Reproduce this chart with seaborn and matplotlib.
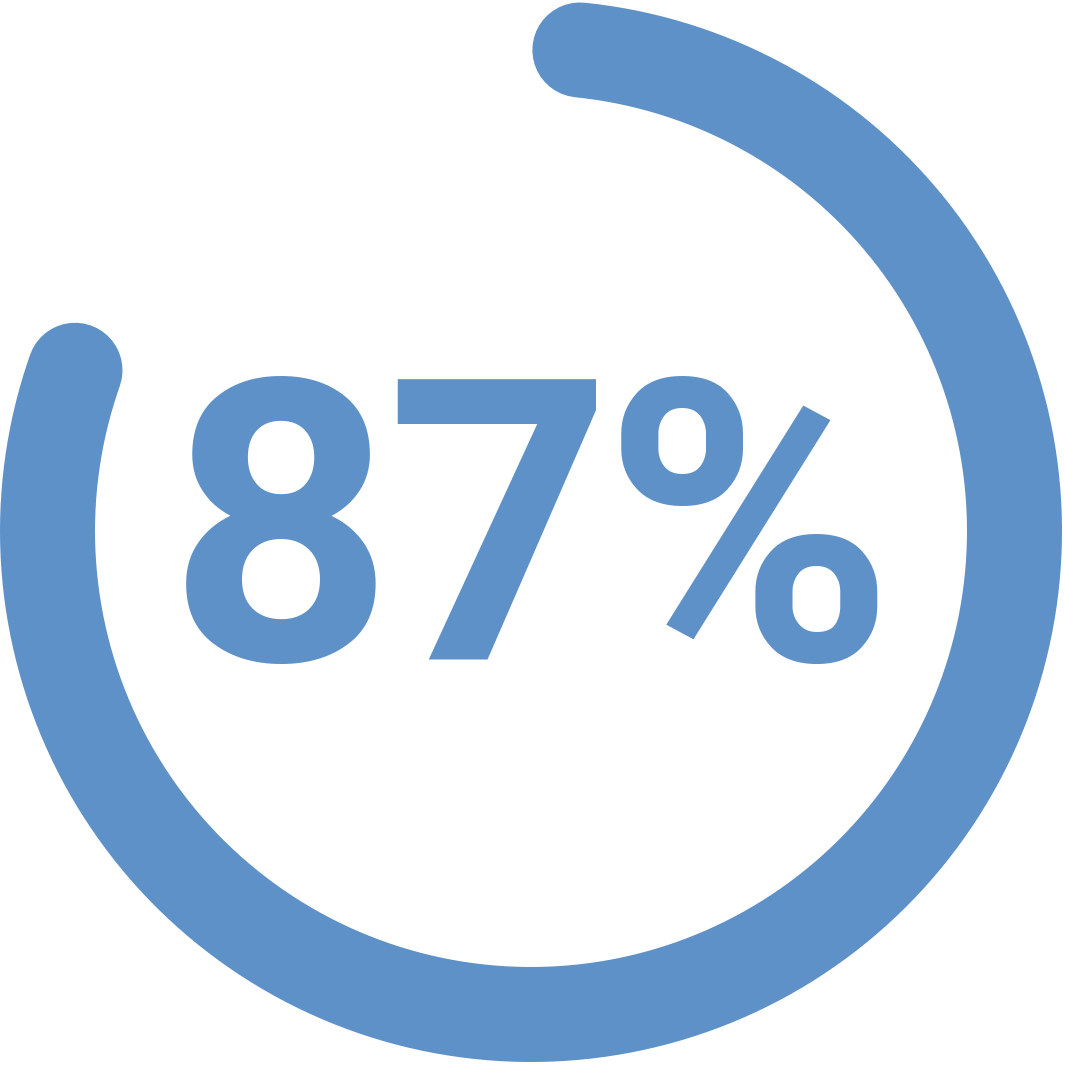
import numpy as np
import pandas as pd
import matplotlib
matplotlib.use("Agg")
import matplotlib.pyplot as plt
import seaborn as sns

# gauge data
percent = 87
label = "87%"

# gauge look (pixel space of the 1065 px canvas)
ring_color = "#5E91C7"
center = (531, 531)
radius = 483.5
ring_px = 95
start_deg = 5.8      # clockwise from 12 o'clock
full_sweep = 326.0   # degrees that stand for 100 %
char_x = [281, 498, 748]   # tight tracking: one glyph at a time
baseline_y = 660

sweep = percent / 100 * full_sweep
ang = np.deg2rad(start_deg + np.linspace(0, sweep, 600))
arc = pd.DataFrame({
    "x": center[0] + radius * np.sin(ang),
    "y": center[1] - radius * np.cos(ang),
})

sns.set_style("white")
fig = plt.figure(figsize=(10.65, 10.65), dpi=100)
ax = fig.add_axes([0, 0, 1, 1])

sns.lineplot(data=arc, x="x", y="y", sort=False, ax=ax, color=ring_color,
             linewidth=ring_px * 72 / 100, solid_capstyle="round")

for ch, x in zip(label, char_x):
    ax.text(x, baseline_y, ch, ha="center", va="baseline", color=ring_color,
            fontsize=284, fontfamily="Roboto", fontweight="bold")

ax.set_xlim(0, 1065)
ax.set_ylim(1065, 0)
ax.set_aspect("equal")
ax.axis("off")

fig.savefig("out.png", dpi=100)
